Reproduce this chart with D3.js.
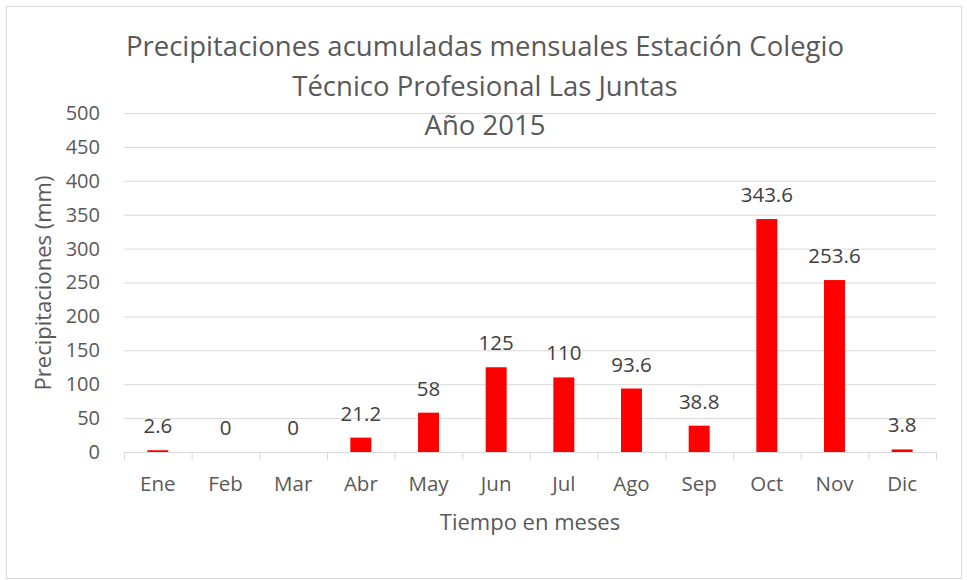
<!DOCTYPE html>
<html>
<head>
<meta charset="utf-8">
<script src="https://cdn.jsdelivr.net/npm/d3@7"></script>
<style>
  body { margin: 0; background: #fff; }
  text { font-family: "Open Sans", "Liberation Sans", sans-serif; }
</style>
</head>
<body>
<div id="vis-svg"></div>
<script>
// chart data
var months = ["Ene", "Feb", "Mar", "Abr", "May", "Jun", "Jul", "Ago", "Sep", "Oct", "Nov", "Dic"];
var rain = [2.6, 0, 0, 21.2, 58, 125, 110, 93.6, 38.8, 343.6, 253.6, 3.8];
var yTicks = [0, 50, 100, 150, 200, 250, 300, 350, 400, 450, 500];
var titleLines = ["Precipitaciones acumuladas mensuales Estación Colegio", "Técnico Profesional Las Juntas", "Año 2015"];

var W = 967, H = 580,
  plot = {left: 124, right: 936, top: 113, bottom: 452};

var svg = d3.select("#vis-svg").append("svg")
  .attr("width", W)
  .attr("height", H);

// outer frame
svg.append("rect")
  .attr("x", 6.5).attr("y", 6.5)
  .attr("width", 955).attr("height", 572)
  .style("fill", "#fff")
  .style("stroke", "#d9d9d9");

var x = d3.scaleBand()
  .domain(months)
  .range([plot.left, plot.right])
  .paddingInner(0.69)
  .paddingOuter(0.345);

var y = d3.scaleLinear()
  .domain([0, 500])
  .range([plot.bottom, plot.top]);

// gridlines
svg.append("g")
  .selectAll("line")
  .data(yTicks.filter(function(d) { return d > 0; }))
  .enter().append("line")
  .attr("x1", plot.left).attr("x2", plot.right)
  .attr("y1", function(d) { return y(d) + 0.5; })
  .attr("y2", function(d) { return y(d) + 0.5; })
  .style("stroke", "#d9d9d9")
  .style("stroke-width", 1);

// y axis labels
var yAxis = svg.append("g")
  .attr("transform", "translate(" + plot.left + ",0)")
  .call(d3.axisLeft(y).tickValues(yTicks).tickSize(0).tickPadding(24));
yAxis.select(".domain").remove();
yAxis.selectAll("text")
  .style("font-size", "20px")
  .style("fill", "#595959");

// x axis with category-boundary ticks
var band = x.step();
var xAxis = svg.append("g")
  .attr("transform", "translate(0," + plot.bottom + ")");
xAxis.append("line")
  .attr("x1", plot.left).attr("x2", plot.right)
  .attr("y1", 0.5).attr("y2", 0.5)
  .style("stroke", "#d9d9d9");
xAxis.selectAll(".tk")
  .data(d3.range(months.length + 1))
  .enter().append("line")
  .attr("class", "tk")
  .attr("x1", function(i) { return plot.left + i * band + 0.5; })
  .attr("x2", function(i) { return plot.left + i * band + 0.5; })
  .attr("y1", 0).attr("y2", 8)
  .style("stroke", "#d9d9d9");
xAxis.selectAll(".lbl")
  .data(months)
  .enter().append("text")
  .attr("class", "lbl")
  .attr("x", function(d) { return x(d) + x.bandwidth() / 2; })
  .attr("y", 39)
  .attr("text-anchor", "middle")
  .style("font-size", "20.5px")
  .style("fill", "#595959")
  .text(function(d) { return d; });

// bars
svg.append("g")
  .selectAll("rect")
  .data(rain)
  .enter().append("rect")
  .attr("x", function(d, i) { return x(months[i]); })
  .attr("width", x.bandwidth())
  .attr("y", function(d) { return y(d); })
  .attr("height", function(d) { return y(0) - y(d); })
  .style("fill", "#ff0000");

// data labels
svg.append("g")
  .selectAll("text")
  .data(rain)
  .enter().append("text")
  .attr("x", function(d, i) { return x(months[i]) + x.bandwidth() / 2; })
  .attr("y", function(d) { return y(d) - 17; })
  .attr("text-anchor", "middle")
  .style("font-size", "20.5px")
  .style("fill", "#404040")
  .text(function(d) { return d; });

// title
svg.append("g")
  .selectAll("text")
  .data(titleLines)
  .enter().append("text")
  .attr("x", 485)
  .attr("y", function(d, i) { return 56 + i * 39.5; })
  .attr("text-anchor", "middle")
  .style("font-size", "27.5px")
  .style("fill", "#595959")
  .text(function(d) { return d; });

// axis titles
svg.append("text")
  .attr("transform", "translate(51,283) rotate(-90)")
  .attr("text-anchor", "middle")
  .style("font-size", "22px")
  .style("fill", "#595959")
  .text("Precipitaciones (mm)");

svg.append("text")
  .attr("x", 530)
  .attr("y", 530)
  .attr("text-anchor", "middle")
  .style("font-size", "22px")
  .style("fill", "#595959")
  .text("Tiempo en meses");
</script>
</body>
</html>
